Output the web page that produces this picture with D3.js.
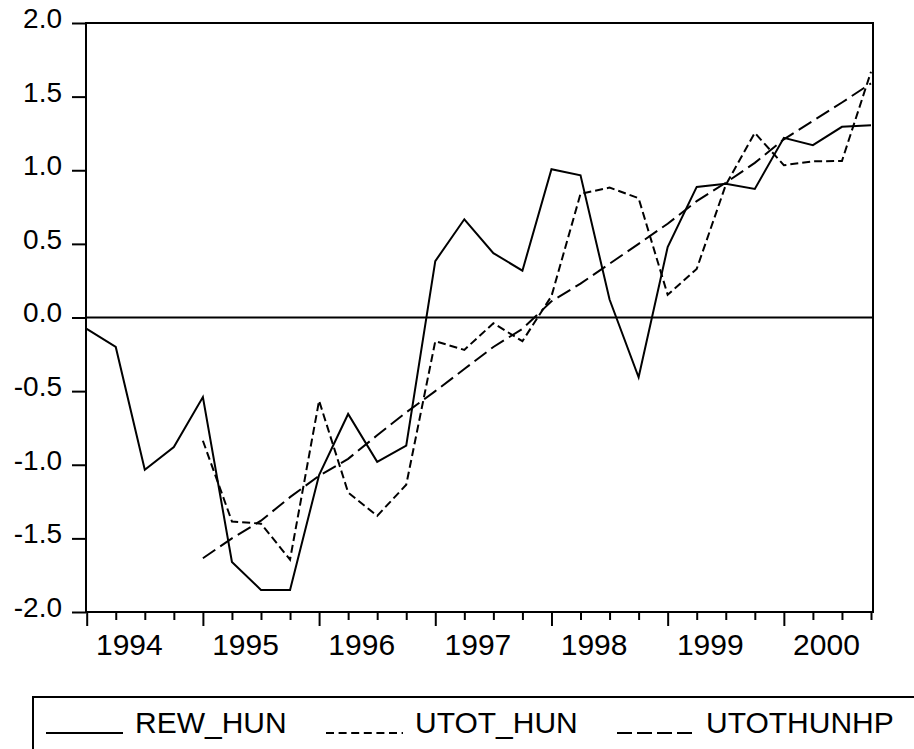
<!DOCTYPE html>
<html>
<head>
<meta charset="utf-8">
<script src="https://cdn.jsdelivr.net/npm/d3@7"></script>
<style>
  html, body { margin: 0; padding: 0; background: #fff; }
  svg { display: block; }
  text { font-family: "Liberation Sans", Arial, sans-serif; fill: #000; }
</style>
</head>
<body>
<svg id="chart" width="914" height="749"></svg>
<script>
// ---- data ----
const quarters = [
  "1994Q1","1994Q2","1994Q3","1994Q4",
  "1995Q1","1995Q2","1995Q3","1995Q4",
  "1996Q1","1996Q2","1996Q3","1996Q4",
  "1997Q1","1997Q2","1997Q3","1997Q4",
  "1998Q1","1998Q2","1998Q3","1998Q4",
  "1999Q1","1999Q2","1999Q3","1999Q4",
  "2000Q1","2000Q2","2000Q3","2000Q4"
];
const yearLabels = ["1994","1995","1996","1997","1998","1999","2000"];
const yTicks = [-2.0, -1.5, -1.0, -0.5, 0.0, 0.5, 1.0, 1.5, 2.0];

const rewHun = [-0.077, -0.20, -1.034, -0.88, -0.54, -1.66, -1.85, -1.85,
  -1.07, -0.655, -0.98, -0.87, 0.383, 0.667, 0.437, 0.318,
  1.007, 0.966, 0.122, -0.406, 0.478, 0.887, 0.909, 0.873,
  1.22, 1.17, 1.295, 1.306];
const utotHun = [null, null, null, null, -0.837, -1.385, -1.40, -1.644,
  -0.565, -1.188, -1.347, -1.136, -0.161, -0.22, -0.039, -0.161,
  0.145, 0.84, 0.882, 0.81, 0.154, 0.33, 0.90, 1.254,
  1.034, 1.061, 1.063, 1.669];
const utotHunHp = [null, null, null, null, -1.635, -1.50, -1.38, -1.22,
  -1.075, -0.96, -0.80, -0.644, -0.50, -0.35, -0.20, -0.077,
  0.11, 0.23, 0.365, 0.50, 0.637, 0.79, 0.915, 1.05,
  1.21, 1.335, 1.46, 1.59];

const seriesNames = ["REW_HUN", "UTOT_HUN", "UTOTHUNHP"];

// ---- layout ----
const frame = {left: 86, right: 873, top: 23, bottom: 612};
const svg = d3.select("#chart");

const x = d3.scaleLinear().domain([0, quarters.length - 1]).range([86.7, 871]);
const y = d3.scaleLinear().domain([-2, 2]).range([frame.bottom, frame.top]);

// y axis
const yAxis = d3.axisLeft(y).tickValues(yTicks).tickSize(14).tickPadding(10)
  .tickFormat(d => d.toFixed(1));
const gy = svg.append("g").attr("transform", `translate(${frame.left},0)`).call(yAxis);
gy.select(".domain").remove();
gy.selectAll(".tick line").attr("stroke", "#000").attr("stroke-width", 2);
gy.selectAll(".tick text").attr("font-size", 28).attr("dy", "0.16em")
  .attr("font-family", "Liberation Sans, Arial, sans-serif");

// x axis ticks (quarters)
const xAxis = d3.axisBottom(x).tickValues(d3.range(quarters.length)).tickFormat("").tickSize(8);
const gx = svg.append("g").attr("transform", `translate(0,${frame.bottom})`).call(xAxis);
gx.select(".domain").remove();
gx.selectAll(".tick line").attr("stroke", "#000").attr("stroke-width", 2)
  .attr("y2", d => quarters[d].endsWith("Q1") ? 14 : 8);

// year labels
const yearPos = yearLabels.map((yl, i) => i * 4 + 1.45);
const xLab = d3.axisBottom(x).tickValues(yearPos).tickSize(0).tickPadding(0)
  .tickFormat((d, i) => yearLabels[i]);
const gl = svg.append("g").attr("transform", `translate(0,${frame.bottom})`).call(xLab);
gl.select(".domain").remove();
gl.selectAll(".tick text").attr("font-size", 30).attr("dy", null).attr("y", 43)
  .attr("font-family", "Liberation Sans, Arial, sans-serif");

// zero line
svg.append("line")
  .attr("x1", frame.left).attr("x2", frame.right)
  .attr("y1", y(0)).attr("y2", y(0))
  .attr("stroke", "#000").attr("stroke-width", 2);

// lines
const lineGen = d3.line()
  .defined(d => d != null)
  .x((d, i) => x(i))
  .y(d => y(d));

const styles = [
  {data: rewHun, dash: null},
  {data: utotHun, dash: "8,4"},
  {data: utotHunHp, dash: "15,6"}
];
styles.forEach(s => {
  svg.append("path")
    .attr("d", lineGen(s.data))
    .attr("fill", "none")
    .attr("stroke", "#000")
    .attr("stroke-width", 2)
    .attr("stroke-linejoin", "miter")
    .attr("stroke-dasharray", s.dash);
});

// frame
svg.append("rect")
  .attr("x", frame.left).attr("y", frame.top)
  .attr("width", frame.right - frame.left).attr("height", frame.bottom - frame.top)
  .attr("fill", "none").attr("stroke", "#000").attr("stroke-width", 2);

// legend
svg.append("rect").attr("x", 33).attr("y", 697).attr("width", 900).attr("height", 100)
  .attr("fill", "none").attr("stroke", "#000").attr("stroke-width", 2);
const legendX = [46, 326, 617];
const legendDash = [null, "8,4.6", "15,5"];
seriesNames.forEach((name, i) => {
  svg.append("line")
    .attr("x1", legendX[i]).attr("x2", legendX[i] + 77)
    .attr("y1", 733).attr("y2", 733)
    .attr("stroke", "#000").attr("stroke-width", 2)
    .attr("stroke-dasharray", legendDash[i]);
  svg.append("text")
    .attr("x", legendX[i] + 89).attr("y", 733)
    .attr("font-size", 30)
    .text(name);
});
</script>
</body>
</html>
